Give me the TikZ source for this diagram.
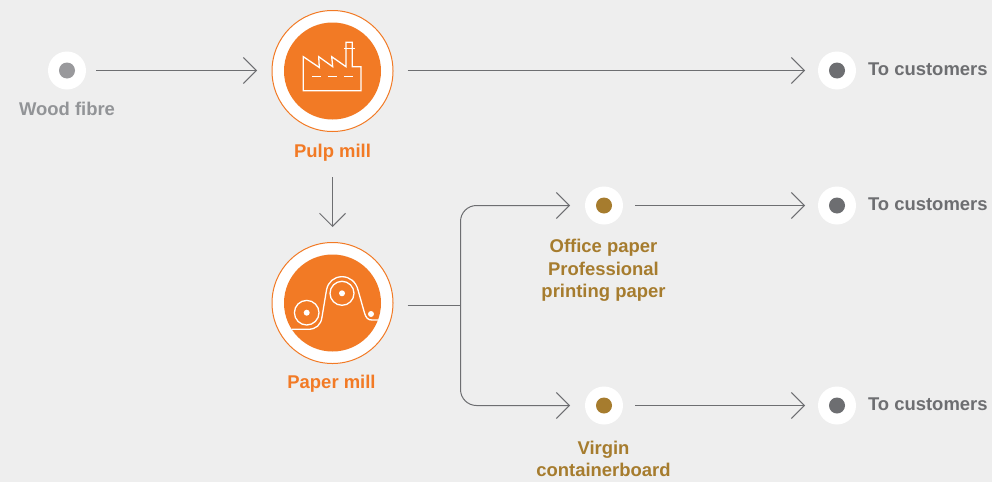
\documentclass[tikz,border=0pt]{standalone}
\usepackage{fontspec}
\setmainfont{Liberation Sans}
\usetikzlibrary{arrows.meta}
\definecolor{bgc}{HTML}{EEEEEE}
\definecolor{orng}{HTML}{F27A25}
\definecolor{brwn}{HTML}{A67C2E}
\definecolor{dgr}{HTML}{6D6E71}
\definecolor{lgr}{HTML}{929497}
\tikzset{
  x=1pt,y=-1pt,
  dotbase/.style={circle,fill=white,minimum size=38pt,inner sep=0pt,outer sep=12pt},
  pip/.style={circle,minimum size=16pt,inner sep=0pt},
  bigc/.style={circle,draw=orng,fill=white,line width=1pt,minimum size=121pt,inner sep=0pt,outer sep=14.5pt},
  bigin/.style={circle,fill=orng,minimum size=97pt,inner sep=0pt},
  lab/.style={font=\fontsize{18.45pt}{22.5pt}\selectfont\bfseries,align=center,inner sep=0pt,outer sep=0pt},
  flow/.style={draw=dgr,line width=1pt,-{Straight Barb[length=13pt,width=26pt,line width=1pt]}},
  plain/.style={draw=dgr,line width=1pt},
  icon/.style={draw=white,line width=1.3pt},
}
\begin{document}
\begin{tikzpicture}
\useasboundingbox (0,0) rectangle (992,482);
\fill[bgc] (0,0) rectangle (992,482);
% circles
\node[dotbase,outer sep=10pt] (wood) at (67,70.5) {};
\node[pip,fill=dgr!70!white] at (wood.center) {};
\node[bigc] (pulp) at (332.5,71) {};
\node[bigin] at (pulp.center) {};
\node[bigc] (paper) at (332.5,303) {};
\node[bigin] at (paper.center) {};
\node[dotbase] (cust1) at (837,70.5) {};
\node[dotbase] (cust2) at (837,205.5) {};
\node[dotbase] (cust3) at (837,405.5) {};
\node[dotbase] (office) at (604,205.5) {};
\node[dotbase] (virgin) at (604,405.5) {};
\foreach \n in {cust1,cust2,cust3}{\node[pip,fill=dgr] at (\n.center) {};}
\foreach \n in {office,virgin}{\node[pip,fill=brwn] at (\n.center) {};}
% labels
\node[lab,text=lgr] (woodl) at (67,108.8) {Wood fibre};
\node[lab,text=orng] (pulpl) at (332.5,152.5) {Pulp mill};
\node[lab,text=orng] (paperl) at (331.5,383.5) {Paper mill};
\node[lab,text=dgr,anchor=west] (c1l) at (868,69.3) {To customers};
\node[lab,text=dgr,anchor=west] (c2l) at (868,204.3) {To customers};
\node[lab,text=dgr,anchor=west] (c3l) at (868,404.3) {To customers};
\node[lab,text=brwn] (officel) at (603.5,270.3) {Office paper\\Professional\\printing paper};
\node[lab,text=brwn] (virginl) at (603.5,459) {Virgin\\containerboard};
% connectors
\draw[flow,shorten >=0.5pt] (wood) -- (pulp.west |- wood);
\draw[flow,shorten >=1pt] (pulp.east |- cust1) -- (cust1);
\draw[flow,shorten <=16pt,shorten >=1pt] (pulpl.south) -- (paper);
\draw[flow,shorten >=1pt] (office) -- (cust2);
\draw[flow,shorten >=1pt] (virgin) -- (cust3);
\coordinate (junction) at (460.5,305.5);
\draw[plain] (paper.east |- junction) -- (junction);
\draw[flow,rounded corners=16pt,shorten >=3pt] (junction) |- (office);
\draw[flow,rounded corners=16pt,shorten >=3pt] (junction) |- (virgin);
% factory icon
\draw[icon,line join=miter] (303.3,56.7) -- (319.3,67.5) -- (318.7,56.7) -- (332.7,66.7) -- (331.7,56.7) -- (346,66.7) -- (346,42.3) -- (352.3,42.3) -- (352.3,66.7) -- (361,66.7) -- (361,90.7) -- (303.3,90.7) -- cycle;
\draw[icon] (344,48.3) -- (355,48.3);
\draw[icon] (312.3,76.7) -- (321,76.7) (328.3,76.7) -- (337.3,76.7) (344,76.7) -- (352.7,76.7);
% paper machine icon
\draw[icon] (306.7,312.7) circle (12.3);
\fill[white] (306.7,312.7) circle (3);
\draw[icon] (342,293.3) circle (12);
\fill[white] (342,293.3) circle (3);
\fill[white] (371,314) circle (3);
\draw[icon] (291.7,329.3) -- (308,329.3) .. controls (316,329.3) and (321,325) .. (322,317) -- (326.5,290) .. controls (328,282) and (334,276.7) .. (342,276.7) .. controls (350,276.7) and (356,282) .. (358,290) -- (364.5,313) .. controls (366,318) and (368,320) .. (372,320) -- (378.3,320);
\end{tikzpicture}
\end{document}
